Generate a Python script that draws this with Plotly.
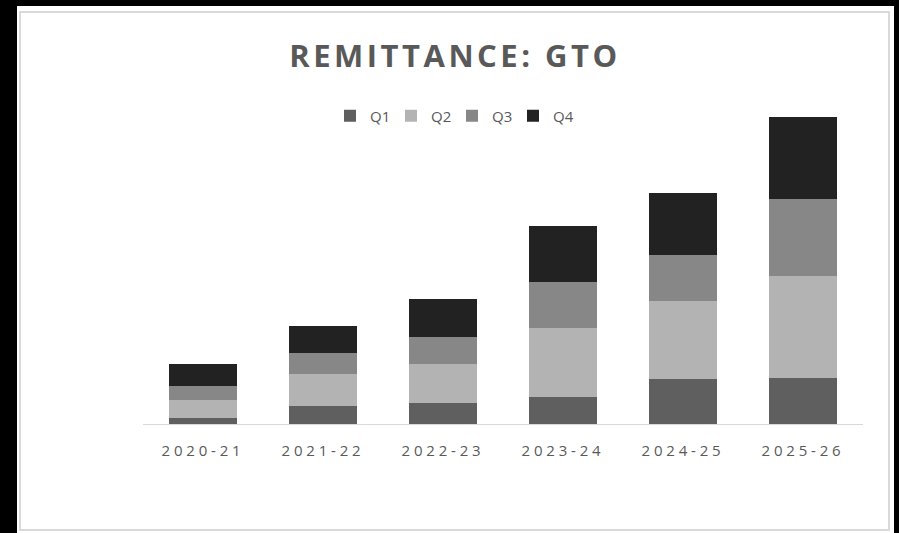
import plotly.graph_objects as go

categories = ["2020-21", "2021-22", "2022-23", "2023-24", "2024-25", "2025-26"]
q1 = [6, 18, 21, 27, 45, 46]
q2 = [18, 32, 39, 69, 78, 102]
q3 = [14, 21, 27, 46, 46, 77]
q4 = [22, 27, 38, 56, 62, 82]
series_names = ["Q1", "Q2", "Q3", "Q4"]
series_colors = ["#5f5f5f", "#b3b3b3", "#878787", "#222222"]

W, H = 899, 533
L, R, T, B = 143, 36, 104, 109
pw, ph = W - L - R, H - T - B

def px_x(p):
    return (p - L) / pw

def px_y(p):
    return (H - B - p) / ph

fig = go.Figure()
for name, vals, col in zip(series_names, [q1, q2, q3, q4], series_colors):
    fig.add_trace(go.Bar(x=categories, y=vals, name=name, marker=dict(color=col, line=dict(width=0))))

fig.update_layout(
    width=W, height=H,
    margin=dict(l=L, r=R, t=T, b=B, pad=0),
    barmode="stack", bargap=0.43,
    paper_bgcolor="#000000", plot_bgcolor="rgba(0,0,0,0)",
    font=dict(family="Open Sans", color="#595959"),
    title=dict(text="<b>REMITTANCE: GTO</b>", x=455 / W, xref="container", xanchor="center",
               y=1 - 56 / H, yref="container", yanchor="middle",
               font=dict(size=31, color="#595959", family="Open Sans")),
    legend=dict(orientation="h", x=px_x(452), xanchor="center", y=px_y(116), yanchor="middle",
                traceorder="normal",
                font=dict(size=15, color="#595959"), bgcolor="rgba(0,0,0,0)",
                itemwidth=30, entrywidth=16, entrywidthmode="pixels"),
    xaxis=dict(showline=True, linecolor="#d9d9d9", linewidth=1, showgrid=False, ticks="",
               tickfont=dict(size=15, color="#595959", family="Open Sans"), ticklabelstandoff=13),
    yaxis=dict(range=[0, ph], visible=False, showgrid=False),
    shapes=[
        dict(type="rect", xref="paper", yref="paper", x0=px_x(17), x1=px_x(894), y0=px_y(533), y1=px_y(6),
             fillcolor="#ffffff", line=dict(width=0), layer="below"),
        dict(type="rect", xref="paper", yref="paper", x0=px_x(20), x1=px_x(889), y0=px_y(530), y1=px_y(12),
             fillcolor="rgba(0,0,0,0)", line=dict(color="#d9d9d9", width=2), layer="below"),
    ],
)

post = """
var gd = document.getElementsByClassName('plotly-graph-div')[0];
function sp(){
  gd.querySelectorAll('.xtick text').forEach(function(t){t.setAttribute('letter-spacing','3.8px');});
  gd.querySelectorAll('.gtitle').forEach(function(t){t.setAttribute('letter-spacing','3.5px');});
}
sp();
gd.on('plotly_afterplot', sp);
"""
fig.write_html("out.html", post_script=post)
